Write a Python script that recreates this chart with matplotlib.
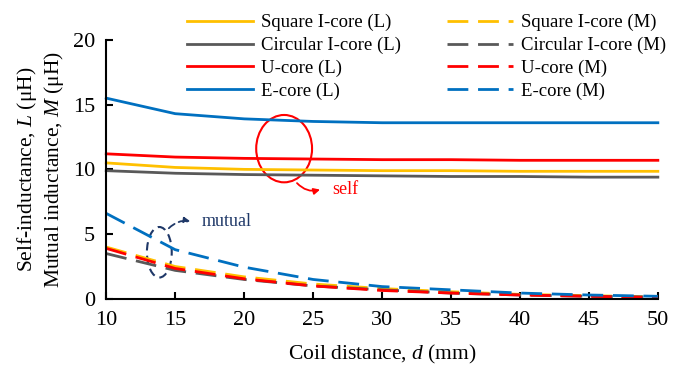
import matplotlib

matplotlib.use("Agg")

import matplotlib.pyplot as plt
from matplotlib.patches import Ellipse

plt.rcParams["font.family"] = ["Liberation Serif", "DejaVu Serif"]
plt.rcParams["mathtext.fontset"] = "custom"
plt.rcParams["mathtext.it"] = "Liberation Serif:italic"
plt.rcParams["mathtext.rm"] = "Liberation Serif"

# coil distance d (mm)
distance = [10, 15, 20, 25, 30, 35, 40, 45, 50]

# self-inductance L (uH)
square_L = [10.5, 10.15, 10.0, 9.95, 9.9, 9.9, 9.85, 9.85, 9.85]
circular_L = [9.9, 9.7, 9.6, 9.55, 9.5, 9.45, 9.45, 9.4, 9.4]
ucore_L = [11.2, 10.95, 10.85, 10.8, 10.75, 10.75, 10.7, 10.7, 10.7]
ecore_L = [15.5, 14.3, 13.9, 13.7, 13.6, 13.6, 13.6, 13.6, 13.6]

# mutual inductance M (uH)
square_M = [4.0, 2.5, 1.7, 1.15, 0.8, 0.55, 0.35, 0.25, 0.15]
circular_M = [3.5, 2.2, 1.5, 1.0, 0.7, 0.45, 0.3, 0.2, 0.15]
ucore_M = [3.9, 2.35, 1.55, 1.0, 0.65, 0.45, 0.3, 0.2, 0.1]
ecore_M = [6.6, 3.8, 2.45, 1.5, 0.95, 0.7, 0.45, 0.3, 0.2]

labels = ["Square I-core", "Circular I-core", "U-core", "E-core"]
colors = ["#FFC000", "#595959", "#FF0000", "#0070C0"]
self_series = [square_L, circular_L, ucore_L, ecore_L]
mutual_series = [square_M, circular_M, ucore_M, ecore_M]

fig = plt.figure(figsize=(6.81, 3.69), dpi=100)
ax = fig.add_axes([0.156, 0.190, 0.810, 0.702])

lines = []
for name, color, vals in zip(labels, colors, self_series):
    (ln,) = ax.plot(distance, vals, color=color, lw=2.0, label=f"{name} (L)", clip_on=False)
    lines.append(ln)
for name, color, vals in zip(labels, colors, mutual_series):
    (ln,) = ax.plot(distance, vals, color=color, lw=2.0, dashes=(7.5, 3.5),
                    label=f"{name} (M)", clip_on=False)
    lines.append(ln)

ax.set_xlim(10, 50)
ax.set_ylim(0, 20)
ax.set_xticks(range(10, 51, 5))
ax.set_yticks(range(0, 21, 5))
for side in ("top", "right"):
    ax.spines[side].set_visible(False)
for side in ("left", "bottom"):
    ax.spines[side].set_linewidth(1.5)
ax.tick_params(direction="in", length=5, width=1.5, labelsize=16)
ax.tick_params(axis="x", pad=9)
ax.tick_params(axis="y", pad=8)

ax.set_xlabel("Coil distance, $d$ (mm)", fontsize=15.5, labelpad=9)
ax.set_ylabel("Self-inductance, $L$ (\u03bcH)\nMutual inductance, $M$ (\u03bcH)",
              fontsize=15.5, labelpad=5)

fig.legend(handles=lines, ncol=2, loc="upper left", bbox_to_anchor=(0.250, 1.008),
           frameon=False, fontsize=13.5, handlelength=3.5, handletextpad=0.45,
           columnspacing=2.45, labelspacing=0.3)

# "self" callout
ax.add_patch(Ellipse((22.9, 11.6), 4.05, 5.2, fill=False, ec="#FF0000", lw=1.5))
ax.annotate("", xy=(25.7, 8.5), xytext=(23.7, 9.1),
            arrowprops=dict(arrowstyle="-|>", color="#FF0000", lw=1.3,
                            mutation_scale=9, connectionstyle="arc3,rad=0.35"))
ax.text(26.4, 8.45, "self", color="#FF0000", fontsize=13, va="center", ha="left")

# "mutual" callout
navy = "#1F3868"
ax.add_patch(Ellipse((13.85, 3.6), 1.8, 3.9, fill=False, ec=navy, lw=1.5, ls=(0, (4, 2.5))))
ax.annotate("", xy=(16.3, 5.95), xytext=(14.4, 5.3),
            arrowprops=dict(arrowstyle="-|>", color=navy, lw=1.3, ls=(0, (4, 2.5)),
                            mutation_scale=9, connectionstyle="arc3,rad=-0.3"))
ax.text(16.95, 6.0, "mutual", color=navy, fontsize=13, va="center", ha="left")

fig.savefig("out.png", dpi=100)
